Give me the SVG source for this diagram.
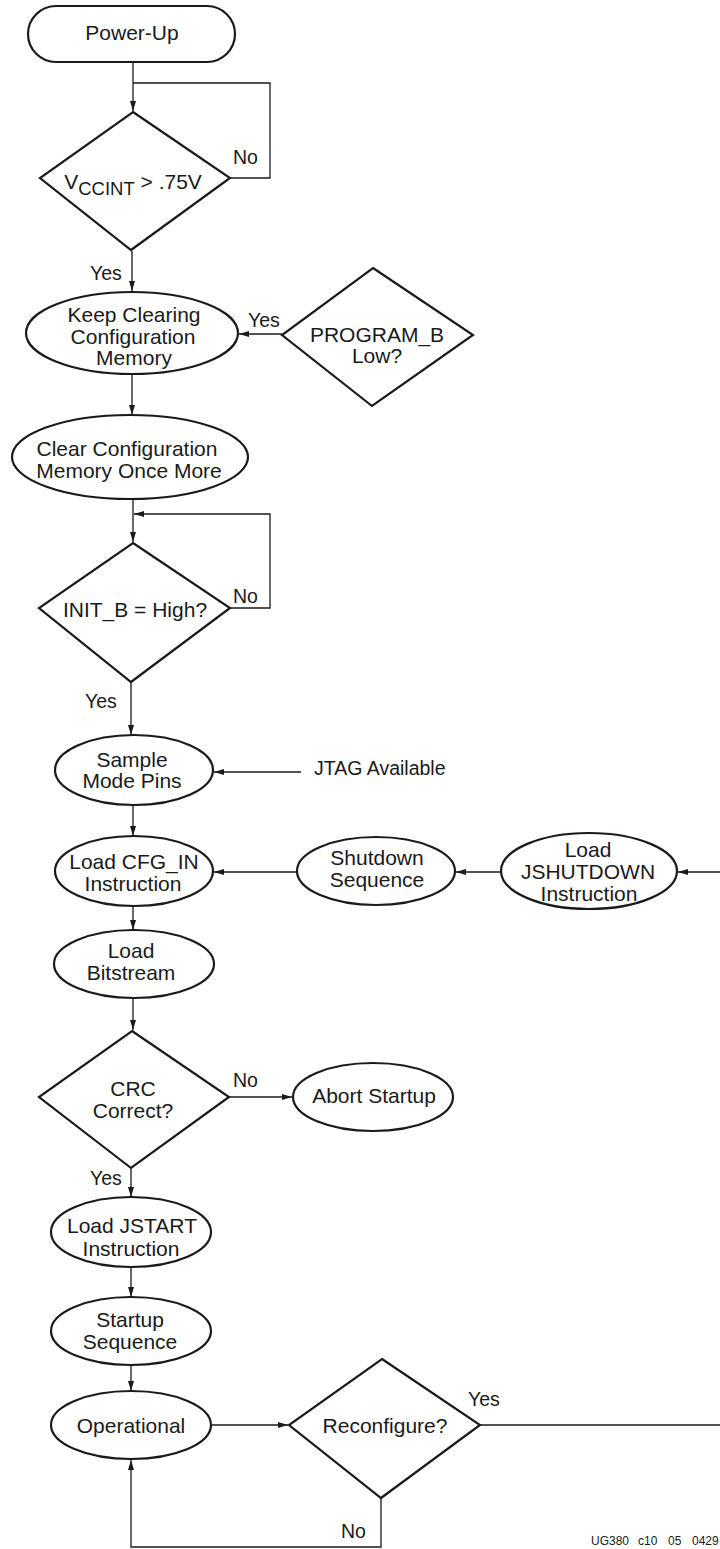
<svg xmlns="http://www.w3.org/2000/svg" width="720" height="1549" viewBox="0 0 720 1549">
<style>
.shape{fill:#fff;stroke:#1a1a1a;stroke-width:2.2}
.conn{fill:none;stroke:#1a1a1a;stroke-width:1.3}
.t{font-family:"Liberation Sans",Arial,sans-serif;font-size:21px;fill:#1a1a1a;text-anchor:middle}
.l{font-family:"Liberation Sans",Arial,sans-serif;font-size:19.5px;fill:#1a1a1a}
.id{font-family:"Liberation Sans",Arial,sans-serif;font-size:12px;fill:#1a1a1a}
</style>
<defs>
<marker id="arr" viewBox="0 0 10 6" refX="10" refY="3" markerWidth="10" markerHeight="6" markerUnits="userSpaceOnUse" orient="auto">
<path d="M0,0 L10,3 L0,6 z" fill="#1a1a1a"/>
</marker>
</defs>
<rect width="720" height="1549" fill="#fff"/>
<g id="connectors">
<path class="conn" d="M133,62 V111" marker-end="url(#arr)"/>
<path class="conn" d="M230,178 H270 V83 H133"/>
<path class="conn" d="M132,251 V291" marker-end="url(#arr)"/>
<path class="conn" d="M282,334 H239" marker-end="url(#arr)"/>
<path class="conn" d="M132,374 V415" marker-end="url(#arr)"/>
<path class="conn" d="M133,499 V542" marker-end="url(#arr)"/>
<path class="conn" d="M230,608 H270 V514 H134" marker-end="url(#arr)"/>
<path class="conn" d="M131,682 V735" marker-end="url(#arr)"/>
<path class="conn" d="M301,772 H214" marker-end="url(#arr)"/>
<path class="conn" d="M133,805 V836" marker-end="url(#arr)"/>
<path class="conn" d="M298,872 H214" marker-end="url(#arr)"/>
<path class="conn" d="M501,872 H456" marker-end="url(#arr)"/>
<path class="conn" d="M720,872 H678" marker-end="url(#arr)"/>
<path class="conn" d="M133,906 V930" marker-end="url(#arr)"/>
<path class="conn" d="M133,998 V1030" marker-end="url(#arr)"/>
<path class="conn" d="M229,1097 H292" marker-end="url(#arr)"/>
<path class="conn" d="M131,1168 V1197" marker-end="url(#arr)"/>
<path class="conn" d="M131,1266 V1297" marker-end="url(#arr)"/>
<path class="conn" d="M131,1365 V1391" marker-end="url(#arr)"/>
<path class="conn" d="M211,1425 H288" marker-end="url(#arr)"/>
<path class="conn" d="M480,1425 H720"/>
<path class="conn" d="M381,1498 V1547 H131 V1460" marker-end="url(#arr)"/>
<text class="l" x="233" y="164">No</text>
<text class="l" x="90" y="280">Yes</text>
<text class="l" x="248" y="327">Yes</text>
<text class="l" x="233" y="603">No</text>
<text class="l" x="85" y="708">Yes</text>
<text class="l" x="233" y="1087">No</text>
<text class="l" x="90" y="1185">Yes</text>
<text class="l" x="468" y="1406">Yes</text>
<text class="l" x="341" y="1538">No</text>
</g>
<g id="power-up">
<rect class="shape" x="28" y="6" width="207" height="56" rx="28" ry="28"/>
<text class="t" x="132" y="40">Power-Up</text>
</g>
<g id="vccint">
<polygon class="shape" points="133,112 230,178 131,250 40,178"/>
<text class="t" x="133" y="189">V<tspan font-size="18.5" dy="6">CCINT</tspan><tspan dy="-6"> &gt; .75V</tspan></text>
</g>
<g id="keep-clearing">
<ellipse class="shape" cx="132" cy="333" rx="106" ry="41"/>
<text class="t" x="134" y="322">Keep Clearing</text>
<text class="t" x="133" y="344">Configuration</text>
<text class="t" x="134" y="365">Memory</text>
</g>
<g id="program-b">
<polygon class="shape" points="373,268 473,335 372,406 282,335"/>
<text class="t" x="377" y="342">PROGRAM_B</text>
<text class="t" x="377" y="363">Low?</text>
</g>
<g id="clear-once">
<ellipse class="shape" cx="130" cy="457" rx="118" ry="42"/>
<text class="t" x="127" y="456">Clear Configuration</text>
<text class="t" x="129" y="478">Memory Once More</text>
</g>
<g id="init-b">
<polygon class="shape" points="133,543 230,608 131,682 39,608"/>
<text class="t" x="135" y="617">INIT_B = High?</text>
</g>
<g id="sample-mode">
<ellipse class="shape" cx="134" cy="770" rx="79" ry="35"/>
<text class="t" x="132" y="767">Sample</text>
<text class="t" x="132" y="788">Mode Pins</text>
</g>
<g id="jtag">
<text class="l" x="314" y="775" font-size="20.5">JTAG Available</text>
</g>
<g id="cfg-in">
<ellipse class="shape" cx="134" cy="871" rx="79" ry="35"/>
<text class="t" x="134" y="869">Load CFG_IN</text>
<text class="t" x="133" y="891">Instruction</text>
</g>
<g id="shutdown">
<ellipse class="shape" cx="376" cy="871" rx="79" ry="34"/>
<text class="t" x="377" y="865">Shutdown</text>
<text class="t" x="377" y="887">Sequence</text>
</g>
<g id="jshutdown">
<ellipse class="shape" cx="589" cy="871" rx="88" ry="38"/>
<text class="t" x="588" y="857">Load</text>
<text class="t" x="588" y="879">JSHUTDOWN</text>
<text class="t" x="589" y="901">Instruction</text>
</g>
<g id="bitstream">
<ellipse class="shape" cx="134" cy="964" rx="80" ry="34"/>
<text class="t" x="131" y="958">Load</text>
<text class="t" x="131" y="980">Bitstream</text>
</g>
<g id="crc">
<polygon class="shape" points="132,1031 229,1097 131,1168 39,1097"/>
<text class="t" x="133" y="1096">CRC</text>
<text class="t" x="133" y="1118">Correct?</text>
</g>
<g id="abort">
<ellipse class="shape" cx="373" cy="1097" rx="80" ry="34"/>
<text class="t" x="374" y="1103">Abort Startup</text>
</g>
<g id="jstart">
<ellipse class="shape" cx="131" cy="1232" rx="80" ry="35"/>
<text class="t" x="132" y="1233">Load JSTART</text>
<text class="t" x="131" y="1256">Instruction</text>
</g>
<g id="startup">
<ellipse class="shape" cx="131" cy="1331" rx="80" ry="34"/>
<text class="t" x="130" y="1327">Startup</text>
<text class="t" x="130" y="1349">Sequence</text>
</g>
<g id="operational">
<ellipse class="shape" cx="131" cy="1425" rx="80" ry="34"/>
<text class="t" x="131" y="1433">Operational</text>
</g>
<g id="reconfigure">
<polygon class="shape" points="382,1359 480,1425 381,1498 289,1425"/>
<text class="t" x="385" y="1433">Reconfigure?</text>
</g>
<g id="figure-id">
<text class="id" y="1545"><tspan x="591">UG380</tspan><tspan x="638">c10</tspan><tspan x="668">05</tspan><tspan x="692">0429</tspan></text>
</g>
</svg>
